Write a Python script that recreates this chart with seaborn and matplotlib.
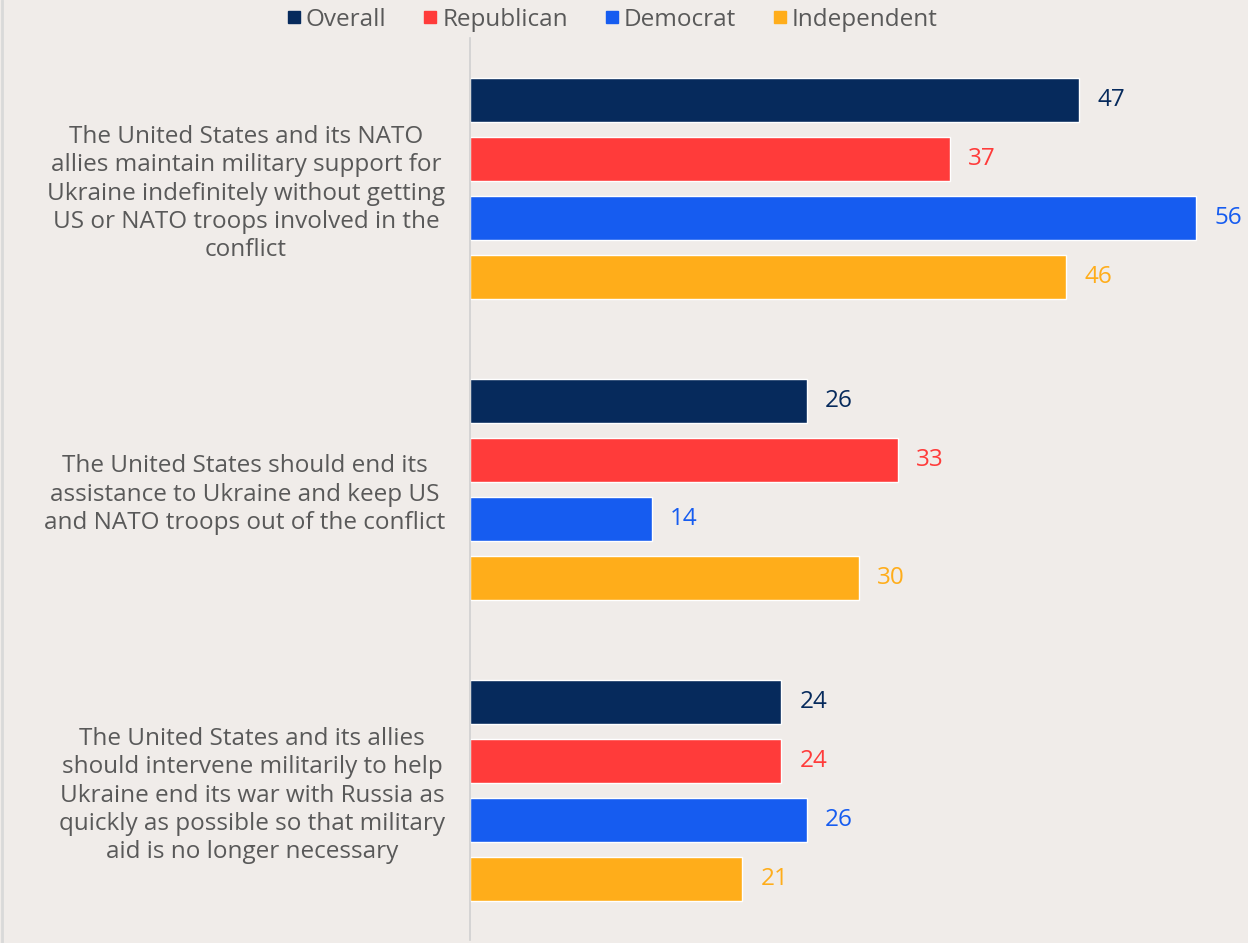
import matplotlib
matplotlib.use("Agg")
import matplotlib.pyplot as plt
import seaborn as sns
import pandas as pd
from matplotlib.lines import Line2D

statements = [
    "The United States and its NATO\nallies maintain military support for\nUkraine indefinitely without getting\nUS or NATO troops involved in the\nconflict",
    "The United States should end its\nassistance to Ukraine and keep US\nand NATO troops out of the conflict",
    "The United States and its allies\nshould intervene militarily to help\nUkraine end its war with Russia as\nquickly as possible so that military\naid is no longer necessary",
]
groups = ["Overall", "Republican", "Democrat", "Independent"]
overall = [47, 26, 24]
republican = [37, 33, 24]
democrat = [56, 14, 26]
independent = [46, 30, 21]
colors = ["#062a5c", "#ff3b3a", "#165cf0", "#ffad1a"]

rows = []
for g, vals in zip(groups, [overall, republican, democrat, independent]):
    for s, v in zip(statements, vals):
        rows.append({"statement": s, "group": g, "value": v})
df = pd.DataFrame(rows)

bg = "#f0ece9"
text_gray = "#595959"

sns.set_theme(style="white")
plt.rcParams["font.family"] = ["Open Sans", "DejaVu Sans"]

fig = plt.figure(figsize=(12.48, 9.43), dpi=100, facecolor=bg)
ax = fig.add_axes([470 / 1248, 3 / 943, 778 / 1248, 902 / 943])
ax.set_facecolor(bg)

sns.barplot(data=df, x="value", y="statement", hue="group", order=statements,
            hue_order=groups, palette=colors, orient="h", width=0.784, gap=0.254,
            ax=ax, legend=False, saturation=1)

ax.set_xlim(0, 60)
ax.set_ylim(2.4967, -0.5)
ax.set_xlabel("")
ax.set_ylabel("")
ax.set_xticks([])
for side in ["top", "right", "bottom"]:
    ax.spines[side].set_visible(False)
ax.spines["left"].set_color("#d0d0d0")
ax.spines["left"].set_linewidth(1.2)
ax.tick_params(axis="y", length=0, pad=18)
for lab in ax.get_yticklabels():
    lab.set_fontsize(17.5)
    lab.set_color(text_gray)
    lab.set_multialignment("center")
    lab.set_linespacing(1.24)

for cont, c in zip(ax.containers, colors):
    ax.bar_label(cont, fmt="%d", padding=13, color=c, fontsize=17.5)

handles = [Line2D([0], [0], marker="s", linestyle="", markersize=9,
                  markerfacecolor=c, markeredgecolor=c) for c in colors]
fig.legend(handles, groups, loc="center", bbox_to_anchor=(611 / 1248, 1 - 20 / 943),
           ncol=4, frameon=False, fontsize=17.5, labelcolor=text_gray,
           handletextpad=0.1, columnspacing=1.4, handlelength=0.8)

fig.add_artist(Line2D([2 / 1248, 2 / 1248], [0, 1], color="#d9d9d9", linewidth=2,
                      transform=fig.transFigure))

fig.savefig("out.png", dpi=100, facecolor=bg)
